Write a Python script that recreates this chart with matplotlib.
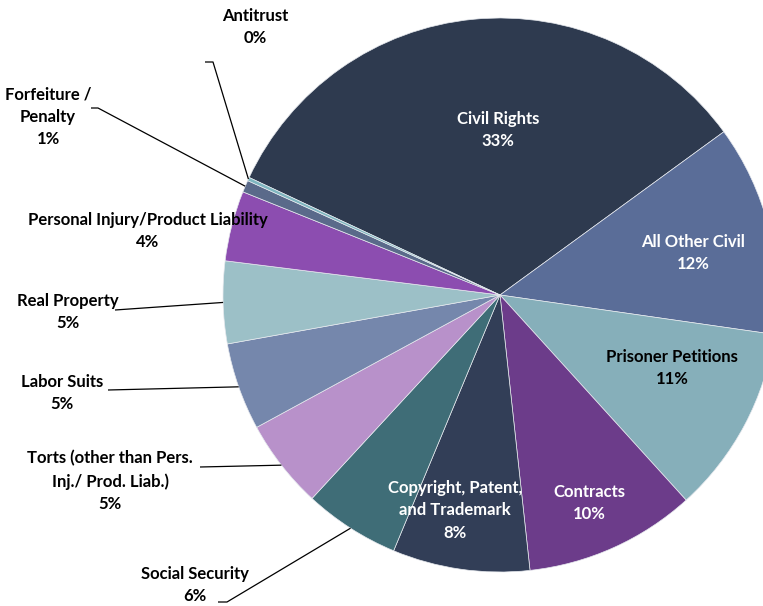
import numpy as np
import matplotlib
matplotlib.use('Agg')
import matplotlib.pyplot as plt

# Civil caseload by nature of suit (share of total, %)
categories = ['Civil Rights', 'All Other Civil', 'Prisoner Petitions', 'Contracts',
              'Copyright, Patent,\nand Trademark', 'Social Security',
              'Torts (other than Pers.\nInj./ Prod. Liab.)', 'Labor Suits',
              'Real Property', 'Personal Injury/Product Liability',
              'Forfeiture /\nPenalty', 'Antitrust']
shares = [33.0, 12.3, 11.0, 10.0, 8.0, 5.6, 5.2, 5.1, 4.8, 4.1, 0.7, 0.2]
pct_labels = ['33%', '12%', '11%', '10%', '8%', '6%', '5%', '5%', '5%', '4%', '1%', '0%']

colors = ['#2E3A4F', '#5A6D98', '#86AFBA', '#6C3C8A', '#323E57', '#3F6D77',
          '#B891CA', '#7587AC', '#9CC0C7', '#8C4DB0', '#5A6A8A', '#7FB6C0']

# layout (pixel coords, y down) -- label positions and leader-line anchors
W, H = 763, 606
center_px = (500, 295)
radius = 277
label_pos = [(498, 130), (693, 253), (672, 368), (589, 503), (455, 510),
             (195, 585), (110, 481), (62, 393), (68, 312), (148, 231),
             (48, 117), (255, 27)]
text_white = [True, True, False, True, True, False, False, False, False, False, False, False]
# leader line start points (None = no leader)
leader_start = [None, None, None, None, None,
                [(218, 602), (227, 602)], [(200, 467)], [(108, 390)],
                [(115, 310)], None, [(91, 108), (98, 108)], [(205, 62), (213, 62)]]

plt.rcParams['font.family'] = ['Lato', 'DejaVu Sans']

fig = plt.figure(figsize=(W / 100, H / 100), dpi=100)
ax = fig.add_axes([0, 0, 1, 1])

cx, cy = center_px[0], H - center_px[1]
wedges, _ = ax.pie(shares, colors=colors, startangle=154.9, counterclock=False,
                   radius=radius, center=(cx, cy),
                   wedgeprops=dict(edgecolor='#E6E9EE', linewidth=0.5))
ax.set_xlim(0, W)
ax.set_ylim(0, H)
ax.set_aspect('equal')
ax.axis('off')

for i, w in enumerate(wedges):
    px, py = label_pos[i]
    ax.text(px, H - py, categories[i] + '\n' + pct_labels[i], ha='center', va='center',
            fontsize=12, fontweight='bold', linespacing=1.5,
            color='white' if text_white[i] else 'black')
    if leader_start[i] is not None:
        mid = np.deg2rad((w.theta1 + w.theta2) / 2)
        ex = cx + radius * np.cos(mid)
        ey = cy + radius * np.sin(mid)
        xs = [p[0] for p in leader_start[i]] + [ex]
        ys = [H - p[1] for p in leader_start[i]] + [ey]
        ax.plot(xs, ys, color='black', lw=0.9, solid_capstyle='butt')

fig.savefig('out.png', dpi=100)
